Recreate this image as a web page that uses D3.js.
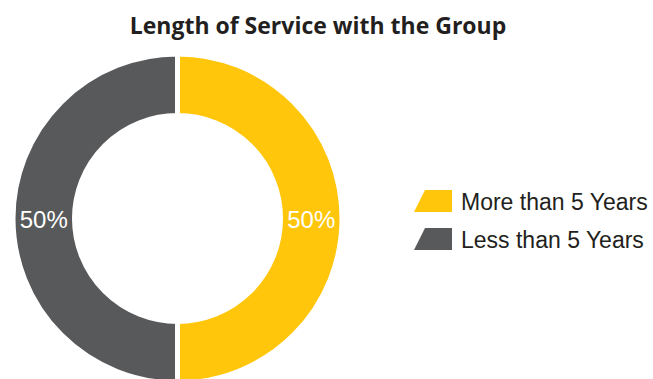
<!DOCTYPE html>
<html><head><meta charset="utf-8">
<script src="https://cdn.jsdelivr.net/npm/d3@7"></script>
<style>body{margin:0;background:#fff}svg{display:block}</style>
</head><body><svg id="c" width="653" height="379"></svg>
<script>
const categories = ["More than 5 Years", "Less than 5 Years"];
const values = [50, 50];
const labels = ["50%", "50%"];
const colors = ["#FFC60B", "#58595B"];
const title = "Length of Service with the Group";

const svg = d3.select("#c");
const cx = 177.5, cy = 218.5, rOut = 164.5, rIn = 103;

svg.append("text").attr("x", 318).attr("y", 34).attr("text-anchor", "middle")
  .attr("font-family", "Open Sans, sans-serif").attr("font-weight", "bold")
  .attr("font-size", 23).attr("fill", "#231f20").text(title);

const pie = d3.pie().sort(null).value(d => d)(values);
const arc = d3.arc().innerRadius(rIn).outerRadius(rOut);
const g = svg.append("g").attr("transform", `translate(${cx},${cy})`);
g.selectAll("path").data(pie).join("path").attr("d", arc)
  .attr("fill", (d, i) => colors[i]).attr("stroke", "#fff").attr("stroke-width", 5);

const lblArc = d3.arc().innerRadius((rIn + rOut) / 2).outerRadius((rIn + rOut) / 2);
g.selectAll("text.l").data(pie).join("text").attr("class", "l")
  .attr("transform", d => { const c = lblArc.centroid(d); return `translate(${c[0]},${c[1] + 9})`; })
  .attr("text-anchor", "middle").attr("font-family", "Liberation Sans, Arial, sans-serif")
  .attr("font-size", 24).attr("fill", "#fff").text((d, i) => labels[i]);

const lg = svg.append("g");
categories.forEach((c, i) => {
  const y = 190 + i * 38;
  lg.append("path").attr("d", `M425,${y}L452,${y}L452,${y + 22}L414,${y + 22}Z`).attr("fill", colors[i]);
  lg.append("text").attr("x", 461).attr("y", y + 20).attr("font-family", "Liberation Sans, Arial, sans-serif")
    .attr("font-size", 23).attr("fill", "#231f20").text(c);
});
</script></body></html>
